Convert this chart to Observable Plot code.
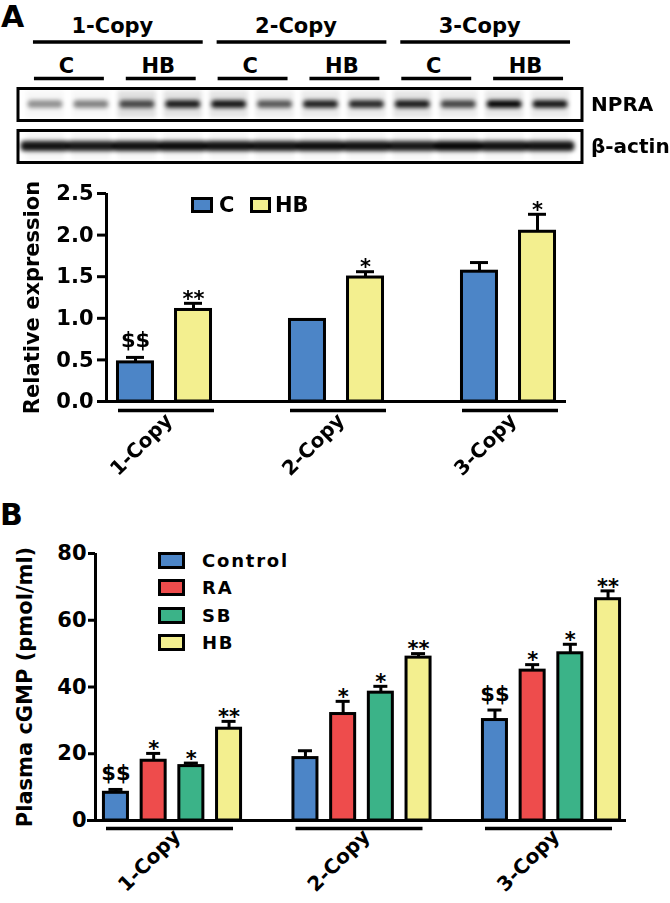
<!DOCTYPE html>
<html><head><meta charset="utf-8">
<script src="https://cdn.jsdelivr.net/npm/d3@7"></script>
<script src="https://cdn.jsdelivr.net/npm/@observablehq/plot@0.6"></script>
<style>
html,body{margin:0;padding:0;background:#fff;}
#fig{position:relative;width:670px;height:903px;overflow:hidden;font-family:'DejaVu Sans',sans-serif;font-weight:bold;color:#000;background:#fff;}
.layer{position:absolute;left:0;}
.letter{position:absolute;font-size:30px;line-height:30px;z-index:5;}
.item{position:absolute;display:flex;align-items:center;white-space:nowrap;z-index:5;}
.sw{box-sizing:border-box;border:3px solid #000;}
</style></head>
<body>
<div id="fig">
  <div class="letter" style="left:1px;top:1.5px">A</div>
  <div id="hdr" class="layer" style="top:0"></div>
  <div id="blot" class="layer" style="top:84px"></div>
  <div id="chartA" class="layer" style="top:170px"></div>
  <div id="axesA" class="layer" style="top:170px"></div>
  <div id="legA"></div>
  <div class="letter" style="left:0px;top:499.5px">B</div>
  <div id="chartB" class="layer" style="top:540px"></div>
  <div id="axesB" class="layer" style="top:540px"></div>
  <div id="legB"></div>
</div>
<script>
// ---------------- DATA ----------------
// Western blot (panel A, top)
const laneCopy  = ["1-Copy","1-Copy","1-Copy","1-Copy","2-Copy","2-Copy","2-Copy","2-Copy","3-Copy","3-Copy","3-Copy","3-Copy"];
const laneTreat = ["C","C","HB","HB","C","C","HB","HB","C","C","HB","HB"];
const blotRows = ["NPRA","β-actin"];
const npraDensity  = [0.42,0.48,0.7,0.9,0.92,0.64,0.88,0.85,0.9,0.72,1.0,0.92];
const npraHaze     = [0.03,0.03,0.12,0.11,0.1,0.07,0.08,0.08,0.1,0.08,0.09,0.08];
const actinDensity = [0.92,0.9,0.93,0.95,0.93,0.92,0.94,0.93,0.9,0.97,0.93,0.92];
const actinHaze    = [0.04,0.04,0.04,0.04,0.04,0.04,0.04,0.04,0.04,0.04,0.04,0.04];

// Panel A bar chart: relative expression
const groupsA = ["1-Copy","2-Copy","3-Copy"];
const condA = ["C","HB"];
const colorsA = ["#4c85c7","#f3ef8f"];
const meanA_C  = [0.47, 0.98, 1.56];
const semA_C   = [0.06, 0, 0.11];
const sigA_C   = ["$$","",""];
const meanA_HB = [1.10, 1.49, 2.04];
const semA_HB  = [0.08, 0.07, 0.21];
const sigA_HB  = ["**","*","*"];
const ticksA = [0,0.5,1,1.5,2,2.5];

// Panel B bar chart: plasma cGMP (pmol/ml)
const groupsB = ["1-Copy","2-Copy","3-Copy"];
const condB = ["Control","RA","SB","HB"];
const colorsB = ["#4c85c7","#ee4c4c","#3bb388","#f3ef8f"];
const meanB_Control = [8.3, 18.7, 30.1];
const semB_Control  = [1.0, 2.2, 3.0];
const sigB_Control  = ["$$","","$$"];
const meanB_RA = [17.9, 31.9, 44.9];
const semB_RA  = [2.2, 3.8, 1.8];
const sigB_RA  = ["*","*","*"];
const meanB_SB = [16.3, 38.3, 50.1];
const semB_SB  = [0.9, 1.9, 2.7];
const sigB_SB  = ["*","*","*"];
const meanB_HB = [27.5, 48.8, 66.3];
const semB_HB  = [2.2, 1.2, 2.5];
const sigB_HB  = ["**","**","**"];
const ticksB = [0,20,40,60,80];

// ---------------- TABLES ----------------
const lanes = laneCopy.map((c,i)=>({lane:i+1, copy:c, treat:laneTreat[i]}));
const blotData = blotRows.flatMap(row => lanes.map((l,i)=>({
  ...l, row,
  density: row==="NPRA" ? npraDensity[i] : actinDensity[i],
  haze: row==="NPRA" ? npraHaze[i] : actinHaze[i]
})));
const copySpans = d3.groups(lanes, d=>d.copy).map(([k,v])=>({label:k, lo:d3.min(v,d=>d.lane), hi:d3.max(v,d=>d.lane)}));
const treatSpans = d3.groups(lanes, d=>d.copy+"|"+d.treat).map(([k,v])=>({label:v[0].treat, lo:d3.min(v,d=>d.lane), hi:d3.max(v,d=>d.lane)}));

const seriesA = {C:[meanA_C,semA_C,sigA_C], HB:[meanA_HB,semA_HB,sigA_HB]};
const dataA = groupsA.flatMap((g,i)=>condA.map(c=>({group:g, cond:c, mean:seriesA[c][0][i], sem:seriesA[c][1][i], sig:seriesA[c][2][i]})));
const seriesB = {Control:[meanB_Control,semB_Control,sigB_Control], RA:[meanB_RA,semB_RA,sigB_RA], SB:[meanB_SB,semB_SB,sigB_SB], HB:[meanB_HB,semB_HB,sigB_HB]};
const dataB = groupsB.flatMap((g,i)=>condB.map(c=>({group:g, cond:c, mean:seriesB[c][0][i], sem:seriesB[c][1][i], sig:seriesB[c][2][i]})));

const baseStyle = {fontFamily:"'DejaVu Sans', sans-serif", fontSize:"20px", fontWeight:"bold", background:"transparent", overflow:"visible", color:"#000"};

// ---------------- BLOT HEADER ----------------
const hdr = Plot.plot({
  width:670, height:84, marginTop:0, marginBottom:0, marginLeft:22, marginRight:97,
  x:{domain:[0.5,12.5], axis:null},
  y:{type:"band", domain:["copy","treat"], axis:null, padding:0},
  style: baseStyle,
  marks:[
    Plot.text(copySpans, {x:d=>(d.lo+d.hi)/2, y:()=>"copy", text:"label", dx:-2, dy:5, fontSize:21}),
    Plot.ruleY(copySpans, {x1:"lo", x2:"hi", y:()=>"copy", dy:20.5, insetLeft:-12, insetRight:-20, stroke:"#000", strokeWidth:3.5}),
    Plot.text(treatSpans, {x:d=>(d.lo+d.hi)/2, y:()=>"treat", text:"label", dx:-2, dy:2.5, fontSize:21}),
    Plot.ruleY(treatSpans, {x1:"lo", x2:"hi", y:()=>"treat", dy:15, insetLeft:-11, insetRight:-13, stroke:"#000", strokeWidth:3.5})
  ]
});
document.getElementById("hdr").append(hdr);

// ---------------- BLOT ----------------
const blot = Plot.plot({
  width:670, height:84, marginTop:4, marginBottom:6, marginLeft:17.5, marginRight:88.5,
  fy:{domain:blotRows, paddingInner:0.238, paddingOuter:0, round:false},
  x:{domain:[0.5,12.5], insetLeft:4.5, insetRight:8.5, axis:null},
  y:{domain:[0,1], axis:null},
  opacity:{type:"identity"},
  style: baseStyle,
  marks:[
    Plot.rect(blotData, {fy:"row", x1:d=>d.lane-0.42, x2:d=>d.lane+0.42, y1:()=>0.08, y2:()=>0.92, fill:"#000", fillOpacity:"haze"}),
    Plot.rect(blotData, {fy:"row",
      x1:d=>d.lane-(d.row==="NPRA"?0.38:0.53), x2:d=>d.lane+(d.row==="NPRA"?0.38:0.53),
      y1:d=>0.5-(d.row==="NPRA"?0.12:0.16), y2:d=>0.5+(d.row==="NPRA"?0.12:0.16),
      fill:"#000", fillOpacity:"density", rx:4}),
    Plot.frame({stroke:"#000", strokeWidth:3}),
    Plot.axisFy({anchor:"right", tickSize:0, tickPadding:9, label:null, fontSize:20})
  ]
});
{
  const s = d3.select(blot);
  const f = s.insert("defs", ":first-child").append("filter").attr("id","blotblur")
    .attr("filterUnits","userSpaceOnUse").attr("x",-100).attr("y",-100).attr("width",900).attr("height",400);
  f.append("feGaussianBlur").attr("stdDeviation",2);
  s.selectAll('g[aria-label="rect"]').attr("filter","url(#blotblur)");
}
document.getElementById("blot").append(blot);

// ---------------- PANEL A CHART ----------------
const dimsA = {width:670, height:320, marginTop:23, marginBottom:89, marginLeft:106, marginRight:104};
const errA = dataA.filter(d=>d.sem>0);
const chartA = Plot.plot({
  ...dimsA,
  fx:{domain:groupsA, paddingInner:0.3256, paddingOuter:0, round:false, axis:null},
  x:{domain:condA, paddingInner:0.397, paddingOuter:0.198, round:false, axis:null},
  y:{domain:[0,2.5], axis:null},
  color:{domain:condA, range:colorsA},
  style: baseStyle,
  marks:[
    Plot.barY(dataA, {fx:"group", x:"cond", y:"mean", fill:"cond", stroke:"#000", strokeWidth:3}),
    Plot.ruleX(errA, {fx:"group", x:"cond", y1:"mean", y2:d=>d.mean+d.sem, stroke:"#000", strokeWidth:3}),
    Plot.tickY(errA, {fx:"group", x:"cond", y:d=>d.mean+d.sem, stroke:"#000", strokeWidth:3, insetLeft:8.5, insetRight:8.5}),
    Plot.text(dataA.filter(d=>d.sig.startsWith("*")), {fx:"group", x:"cond", y:d=>d.mean+d.sem, text:"sig", dy:-4, fontSize:21}),
    Plot.text(dataA.filter(d=>d.sig.startsWith("$")), {fx:"group", x:"cond", y:d=>d.mean+d.sem, text:"sig", dy:-17, fontSize:21}),
    Plot.ruleY(groupsA, {fx:d=>d, y:()=>0, dy:9, insetLeft:12, insetRight:8, stroke:"#000", strokeWidth:3.5}),
    Plot.text(groupsA, {fx:d=>d, text:d=>d, frameAnchor:"bottom", rotate:-45, textAnchor:"end", dx:9, dy:20, fontSize:20})
  ]
});
document.getElementById("chartA").append(chartA);
const axesA = Plot.plot({
  ...dimsA,
  x:{domain:[0,1], axis:null},
  y:{domain:[0,2.5]},
  style: baseStyle,
  marks:[
    Plot.ruleY([0], {insetLeft:-8, stroke:"#000", strokeWidth:3}),
    Plot.ruleX([0], {stroke:"#000", strokeWidth:3}),
    Plot.axisY({ticks:ticksA, tickFormat:d3.format(".1f"), tickSize:9, tickPadding:4, strokeWidth:3,
      label:"Relative expression", labelAnchor:"center", labelOffset:82, labelArrow:"none", fontSize:21})
  ]
});
document.getElementById("axesA").append(axesA);

// ---------------- PANEL B CHART ----------------
const dimsB = {width:670, height:363, marginTop:13, marginBottom:83, marginLeft:95, marginRight:42};
const errB = dataB.filter(d=>d.sem>0);
const chartB = Plot.plot({
  ...dimsB,
  fx:{domain:groupsB, paddingInner:0.1873, paddingOuter:0, round:false, axis:null},
  x:{domain:condB, paddingInner:0.363, paddingOuter:0.224, round:false, axis:null},
  y:{domain:[0,80], axis:null},
  color:{domain:condB, range:colorsB},
  style: baseStyle,
  marks:[
    Plot.barY(dataB, {fx:"group", x:"cond", y:"mean", fill:"cond", stroke:"#000", strokeWidth:3}),
    Plot.ruleX(errB, {fx:"group", x:"cond", y1:"mean", y2:d=>d.mean+d.sem, stroke:"#000", strokeWidth:3}),
    Plot.tickY(errB, {fx:"group", x:"cond", y:d=>d.mean+d.sem, stroke:"#000", strokeWidth:3, insetLeft:5, insetRight:5}),
    Plot.text(dataB.filter(d=>d.sig.startsWith("*")), {fx:"group", x:"cond", y:d=>d.mean+d.sem, text:"sig", dy:-4, fontSize:21}),
    Plot.text(dataB.filter(d=>d.sig.startsWith("$")), {fx:"group", x:"cond", y:d=>d.mean+d.sem, text:"sig", dy:-16, fontSize:21}),
    Plot.ruleY(groupsB, {fx:d=>d, y:()=>0, dy:8, insetLeft:11, insetRight:16, stroke:"#000", strokeWidth:3.5}),
    Plot.text(groupsB, {fx:d=>d, text:d=>d, frameAnchor:"bottom", rotate:-45, textAnchor:"end", dx:9, dy:17, fontSize:20})
  ]
});
document.getElementById("chartB").append(chartB);
const axesB = Plot.plot({
  ...dimsB,
  x:{domain:[0,1], axis:null},
  y:{domain:[0,80]},
  style: baseStyle,
  marks:[
    Plot.ruleY([0], {insetLeft:-8, insetRight:2, stroke:"#000", strokeWidth:3}),
    Plot.ruleX([0], {stroke:"#000", strokeWidth:3}),
    Plot.axisY({ticks:ticksB, tickFormat:d3.format("d"), tickSize:7, tickPadding:2, strokeWidth:3,
      label:"Plasma cGMP (pmol/ml)", labelAnchor:"center", labelOffset:78, labelArrow:"none", fontSize:21})
  ]
});
document.getElementById("axesB").append(axesB);

// ---------------- LEGENDS ----------------
function legendItem(parent, left, top, w, h, color, label, gap, fontSize, spacing){
  const it = document.createElement("div");
  it.className = "item";
  it.style.left = left+"px"; it.style.top = top+"px"; it.style.height = h+"px";
  const sw = document.createElement("div");
  sw.className = "sw"; sw.style.width = w+"px"; sw.style.height = h+"px"; sw.style.background = color;
  const tx = document.createElement("span");
  tx.textContent = label; tx.style.marginLeft = gap+"px"; tx.style.fontSize = fontSize+"px";
  tx.style.lineHeight = h+"px"; tx.style.letterSpacing = spacing+"px";
  it.append(sw, tx);
  parent.append(it);
}
const legA = document.getElementById("legA");
legendItem(legA, 191, 197, 22, 16, colorsA[0], condA[0], 6, 21, 0);
legendItem(legA, 250, 197, 21, 16, colorsA[1], condA[1], 4, 21, 0);
const legB = document.getElementById("legB");
condB.forEach((c,i)=> legendItem(legB, 158, 551.5 + i*27.5, 27, 17, colorsB[i], c, 17, 18, 1.8));
</script>
</body></html>
